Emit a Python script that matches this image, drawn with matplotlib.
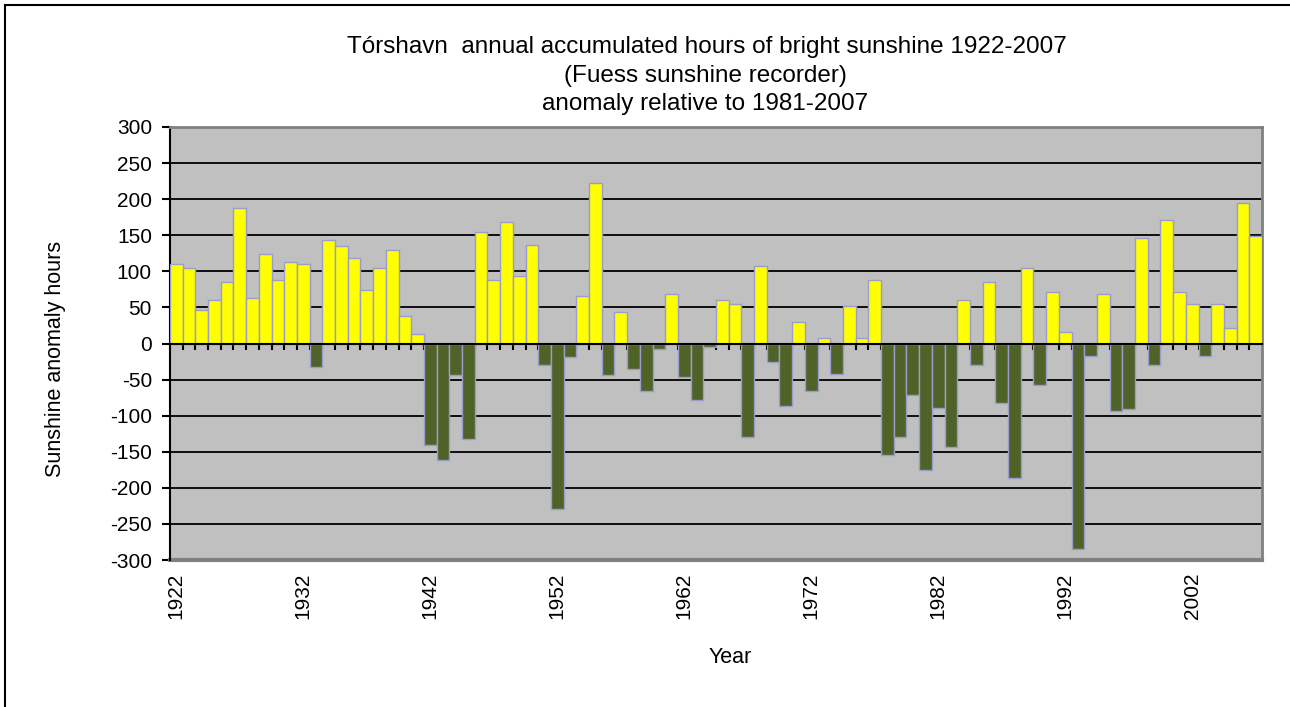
import numpy as np
import matplotlib
matplotlib.use("Agg")
import matplotlib.pyplot as plt
from matplotlib.lines import Line2D

plt.rcParams['font.family'] = ['Liberation Sans', 'DejaVu Sans']
plt.rcParams['axes.unicode_minus'] = False

# anomalia de horas de sol anual, Tórshavn 1922-2007
years = list(range(1922, 2008))
anomaly = [
    110, 105, 47, 60, 85, 188, 63, 124, 88, 113,        # 1922-1931
    110, -33, 144, 135, 119, 74, 105, 130, 38, 13,      # 1932-1941
    -141, -161, -44, -133, 155, 88, 169, 94, 136, -30,  # 1942-1951
    -230, -19, 66, 222, -44, 44, -36, -66, -8, 69,      # 1952-1961
    -47, -78, -5, 60, 55, -130, 108, -25, -86, 30,      # 1962-1971
    -66, 8, -42, 52, 8, 88, -155, -130, -72, -175,      # 1972-1981
    -89, -144, 60, -30, 85, -83, -186, 105, -58, 72,    # 1982-1991
    16, -285, -17, 69, -94, -91, 146, -30, 171, 72,     # 1992-2001
    55, -17, 55, 22, 194, 149,                          # 2002-2007
]

label_years = years[::10]

yellow = '#FFFF00'
green = '#4F6228'
colors = [yellow if v >= 0 else green for v in anomaly]

W, H = 1290, 707
fig = plt.figure(figsize=(W / 100, H / 100), dpi=100)
ax = fig.add_axes([170 / W, 1 - 560 / H, (1262 - 170) / W, (560 - 127) / H])
ax.set_facecolor('#C0C0C0')

idx = np.arange(len(years))
ax.bar(idx, anomaly, width=1.0, color=colors, edgecolor='#9A9CCB', linewidth=1.0, zorder=3)

ax.set_xlim(-0.5, len(years) - 0.5)
ax.set_ylim(-300, 300)
ax.set_yticks(np.arange(-300, 301, 50))
ax.yaxis.grid(True, color='black', linewidth=1.3)
ax.set_axisbelow(True)
ax.tick_params(axis='y', direction='out', length=6, width=1.5, labelsize=15, pad=7)

# eje x en el cero, con marcas entre categorías
ax.spines['bottom'].set_position(('data', 0))
ax.spines['bottom'].set_linewidth(1.5)
ax.spines['bottom'].set_zorder(4)
ax.spines['left'].set_linewidth(1.5)
for s in ['top', 'right']:
    ax.spines[s].set_color('#808080')
    ax.spines[s].set_linewidth(2)
ax.set_xticks([])
ax.set_xticks(np.arange(-0.5, len(years) - 0.5, 1.0), minor=True)
ax.tick_params(axis='x', which='minor', direction='out', length=4, width=1.5)
ax.axhline(-300, color='#808080', linewidth=3, zorder=2, clip_on=False)

# etiquetas de años abajo
sec = ax.secondary_xaxis('bottom')
sec.spines['bottom'].set_visible(False)
sec.set_xticks([years.index(y) for y in label_years], [str(y) for y in label_years])
sec.tick_params(axis='x', length=0, pad=9, labelsize=15, labelrotation=90)

# título en tres líneas
fig.text(707 / W, 1 - 53 / H, 'Tórshavn  annual accumulated hours of bright sunshine 1922-2007',
         ha='center', va='baseline', fontsize=17.5)
fig.text(705 / W, 1 - 82 / H, '(Fuess sunshine recorder)', ha='center', va='baseline', fontsize=17.5)
fig.text(705 / W, 1 - 110 / H, 'anomaly relative to 1981-2007', ha='center', va='baseline', fontsize=17.5)

fig.text(55 / W, 1 - 359 / H, 'Sunshine anomaly hours', rotation=90, ha='center', va='center', fontsize=15.5)
fig.text(730 / W, 1 - 663 / H, 'Year', ha='center', va='baseline', fontsize=15.5)

# marco del gráfico
fig.add_artist(Line2D([5 / W, 5 / W], [0, 1 - 5 / H], color='black', linewidth=1.5))
fig.add_artist(Line2D([5 / W, 1], [1 - 5 / H, 1 - 5 / H], color='black', linewidth=1.5))

fig.savefig('out.png', dpi=100)
